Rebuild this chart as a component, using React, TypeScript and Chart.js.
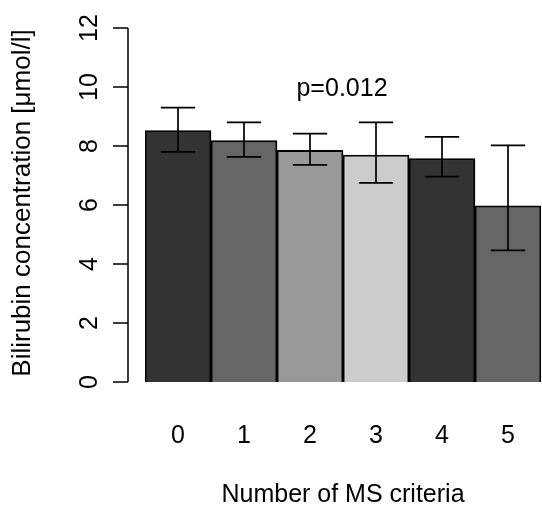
import React, { useEffect, useRef } from "react";
import { Chart, registerables } from "chart.js";

Chart.register(...registerables);

const categories = ["0", "1", "2", "3", "4", "5"];
const means = [8.52, 8.18, 7.85, 7.69, 7.57, 5.97];
const upper = [9.3, 8.8, 8.42, 8.8, 8.31, 8.02];
const lower = [7.8, 7.63, 7.36, 6.75, 6.96, 4.46];
const barColors = ["#333333", "#666666", "#999999", "#CCCCCC", "#333333", "#666666"];
const yTicks = [0, 2, 4, 6, 8, 10, 12];
const xTitle = "Number of MS criteria";
const yTitle = "Bilirubin concentration [μmol/l]";
const annotation = "p=0.012";

const FONT = "25px 'Liberation Sans', Arial, sans-serif";
const YTITLE_FONT = "26px 'Liberation Sans', Arial, sans-serif";

const decorPlugin = {
  id: "decor",
  afterDatasetsDraw(chart: any) {
    const ctx = chart.ctx;
    const xs = chart.scales.x;
    const ys = chart.scales.y;
    const area = chart.chartArea;
    ctx.save();
    // error bars
    ctx.strokeStyle = "#000";
    ctx.lineWidth = 1.7;
    const meta = chart.getDatasetMeta(0);
    means.forEach((_, i) => {
      const el = meta.data[i];
      const cx = el.x;
      const w = el.width;
      const yt = ys.getPixelForValue(upper[i]);
      const yb = ys.getPixelForValue(lower[i]);
      const cap = w * 0.26;
      ctx.beginPath();
      ctx.moveTo(cx, yt);
      ctx.lineTo(cx, yb);
      ctx.moveTo(cx - cap, yt);
      ctx.lineTo(cx + cap, yt);
      ctx.moveTo(cx - cap, yb);
      ctx.lineTo(cx + cap, yb);
      ctx.stroke();
    });
    // y axis
    const axX = area.left - 17;
    ctx.lineWidth = 1.5;
    ctx.beginPath();
    ctx.moveTo(axX, ys.getPixelForValue(yTicks[0]));
    ctx.lineTo(axX, ys.getPixelForValue(yTicks[yTicks.length - 1]));
    yTicks.forEach((t) => {
      const py = ys.getPixelForValue(t);
      ctx.moveTo(axX, py);
      ctx.lineTo(axX - 15, py);
    });
    ctx.stroke();
    ctx.fillStyle = "#000";
    ctx.font = FONT;
    ctx.textAlign = "center";
    ctx.textBaseline = "middle";
    yTicks.forEach((t) => {
      const py = ys.getPixelForValue(t);
      ctx.save();
      ctx.translate(89, py);
      ctx.rotate(-Math.PI / 2);
      ctx.fillText(String(t), 0, 1);
      ctx.restore();
    });
    // y title
    ctx.save();
    ctx.font = YTITLE_FONT;
    ctx.translate(23, (area.top + area.bottom) / 2 - 2);
    ctx.rotate(-Math.PI / 2);
    ctx.fillText(yTitle, 0, 0);
    ctx.restore();
    // x labels
    categories.forEach((c, i) => {
      ctx.fillText(c, xs.getPixelForValue(i), area.bottom + 54);
    });
    ctx.fillText(xTitle, (area.left + area.right) / 2, area.bottom + 113);
    // annotation
    ctx.fillText(annotation, (area.left + area.right) / 2 - 1, ys.getPixelForValue(9.92));
    ctx.restore();
  },
};

export default function App() {
  const ref = useRef<HTMLCanvasElement>(null);
  useEffect(() => {
    const chart = new Chart(ref.current!, {
      type: "bar",
      data: {
        labels: categories,
        datasets: [
          {
            data: means,
            backgroundColor: barColors,
            borderColor: "#000",
            borderWidth: 1.8,
            barPercentage: 1,
            categoryPercentage: 1,
          },
        ],
      },
      options: {
        animation: false,
        responsive: false,
        devicePixelRatio: 1,
        layout: { padding: { left: 145, right: 1, top: 28, bottom: 124 } },
        plugins: { legend: { display: false }, tooltip: { enabled: false } },
        scales: {
          x: { display: false, offset: true },
          y: { display: false, min: 0, max: 12 },
        },
      },
      plugins: [decorPlugin],
    });
    return () => chart.destroy();
  }, []);
  return (
    <div style={{ position: "fixed", left: 0, top: 0, width: 542, height: 506, background: "#fff" }}>
      <canvas ref={ref} width={542} height={506} />
    </div>
  );
}
